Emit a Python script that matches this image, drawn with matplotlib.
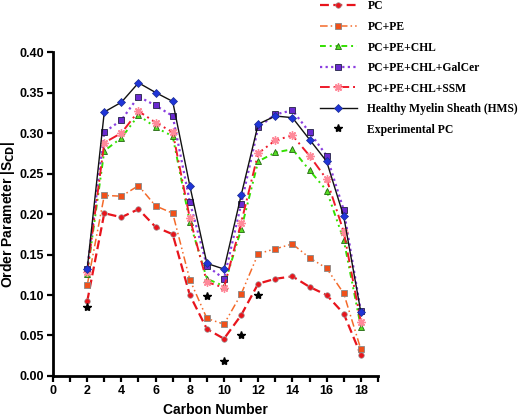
import matplotlib.pyplot as plt

## Data

carbon = list(range(2, 19))

pc = [0.092, 0.201, 0.196, 0.206, 0.184, 0.175, 0.100, 0.058, 0.046, 0.075,
      0.114, 0.120, 0.123, 0.110, 0.100, 0.077, 0.026]
pc_pe = [0.112, 0.223, 0.222, 0.235, 0.210, 0.201, 0.119, 0.071, 0.064, 0.101,
         0.151, 0.157, 0.163, 0.146, 0.133, 0.102, 0.033]
pc_pe_chl = [0.126, 0.278, 0.294, 0.322, 0.307, 0.296, 0.190, 0.120, 0.111, 0.181,
             0.265, 0.276, 0.280, 0.254, 0.229, 0.168, 0.061]
pc_pe_chl_galcer = [0.132, 0.301, 0.316, 0.345, 0.334, 0.321, 0.215, 0.136, 0.120, 0.212,
                    0.307, 0.323, 0.328, 0.301, 0.272, 0.205, 0.080]
pc_pe_chl_ssm = [0.128, 0.288, 0.300, 0.327, 0.313, 0.301, 0.195, 0.116, 0.109, 0.189,
                 0.275, 0.291, 0.297, 0.272, 0.243, 0.178, 0.067]
hms = [0.132, 0.326, 0.338, 0.362, 0.350, 0.339, 0.235, 0.139, 0.132, 0.223,
       0.311, 0.321, 0.319, 0.292, 0.265, 0.197, 0.079]

exp_carbon = [2, 9, 10, 11, 12]
exp_pc = [0.085, 0.099, 0.019, 0.050, 0.100]

labels = ['PC', 'PC+PE', 'PC+PE+CHL', 'PC+PE+CHL+GalCer', 'PC+PE+CHL+SSM',
          'Healthy Myelin Sheath (HMS)', 'Experimental PC']

plt.rcParams['font.family'] = ['Liberation Sans', 'DejaVu Sans']

fig = plt.figure(figsize=(5.22, 4.18), dpi=100)
ax = fig.add_axes([0.1015, 0.1005, 0.6225, 0.775])

h = []
h += ax.plot(carbon, pc, color='#e8141c', ls=(0, (4, 2)), lw=1.6, marker='o', ms=4,
             mfc='#e8141c', mec='#999999', mew=0.5)
h += ax.plot(carbon, pc_pe, color='#f46a2a', ls=(0, (5, 2, 1, 2, 1, 2)), lw=1.1, marker='s', ms=4,
             mfc='#f0501a', mec='#888888', mew=0.6)
h += ax.plot(carbon, pc_pe_chl, color='#33e000', ls=(0, (3, 2, 1, 2, 1, 2)), lw=1.4, marker='^', ms=4,
             mfc='#55dd22', mec='#226611', mew=0.6)
h += ax.plot(carbon, pc_pe_chl_galcer, color='#8a3ee0', ls=(0, (1, 1.5)), lw=1.6, marker='s', ms=4,
             mfc='#6a2ad0', mec='#222244', mew=0.6)
h += ax.plot(carbon, pc_pe_chl_ssm, color='#ee1a2a', ls=(0, (5, 2, 1, 2)), lw=1.4, marker=(8, 2, 0), ms=6,
             mec='#ff8a9a', mew=1.0)
h += ax.plot(carbon, hms, color='#111111', ls='-', lw=1.0, marker='D', ms=4,
             mfc='#1f35d8', mec='#1a2a90', mew=0.5)
h += ax.plot(exp_carbon, exp_pc, ls='none', marker='*', ms=6, color='black')

ax.set_xlim(0, 19)
ax.set_ylim(0, 0.40)
ax.set_xticks(range(0, 20))
ax.set_xticklabels([str(i) if i % 2 == 0 and i <= 18 else '' for i in range(0, 20)])
ax.set_yticks([i * 0.05 for i in range(9)])
ax.set_yticklabels(['%.2f' % (i * 0.05) for i in range(9)])

for s in ['top', 'right']:
    ax.spines[s].set_visible(False)
for s in ['left', 'bottom']:
    ax.spines[s].set_linewidth(2)
ax.tick_params(width=1.6, length=4, labelsize=9, direction='out', pad=2.5)
for t in ax.get_xticklabels() + ax.get_yticklabels():
    t.set_fontweight('bold')

ax.set_xlabel('Carbon Number', fontsize=10, fontweight='bold', labelpad=4)
ax.set_ylabel('Order Parameter |S$_{\\mathbf{CD}}$|', fontsize=10, fontweight='bold', labelpad=2)

fig.legend(h, labels, loc='upper left', bbox_to_anchor=(0.592, 1.024), frameon=False,
           prop={'family': 'Liberation Serif', 'weight': 'bold', 'size': 8.4},
           handlelength=3.17, handletextpad=0.94, labelspacing=0.73)

fig.savefig('out.png', dpi=100)
